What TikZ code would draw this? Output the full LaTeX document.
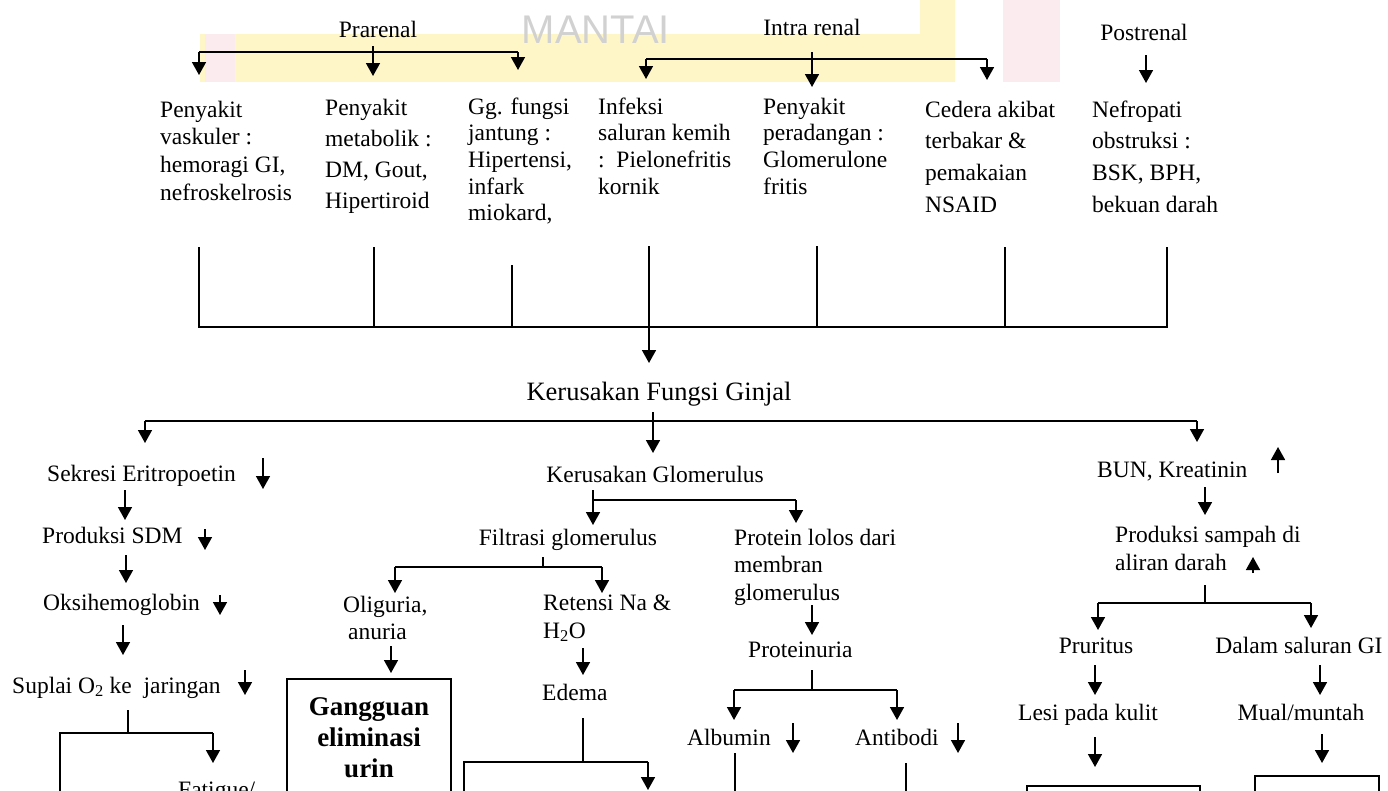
\documentclass[tikz,border=0pt]{standalone}
\usepackage{fontspec}
\setmainfont{Liberation Serif}
\setsansfont{Liberation Sans}
\usetikzlibrary{arrows.meta}
\newcommand\mltext[2]{{\fontsize{23.5}{#1}\selectfont\begin{tabular}[t]{@{}l@{}}#2\end{tabular}}}
\definecolor{wmyellow}{RGB}{255,246,200}
\definecolor{wmpink}{RGB}{251,234,238}
\begin{document}
\begin{tikzpicture}[x=1pt,y=-1pt,
  ln/.style={line width=1.6pt},
  ar/.style={line width=1.6pt,-{Triangle[width=14pt,length=13pt]}},
  tx/.style={inner sep=0pt,font=\fontsize{23.5}{28}\selectfont},
  tw/.style={tx,anchor=base west},
  tc/.style={tx,anchor=base},
  ml/.style={inner sep=0pt,anchor=base west},
  bx/.style={draw,line width=1.6pt,anchor=north west,inner sep=0pt},
]
\useasboundingbox (0,0) rectangle (1388,790);

% faint watermark remnants
\fill[wmyellow] (200,34) rectangle (955,82);
\fill[wmyellow] (920,0) rectangle (955,34);
\fill[wmpink] (205,34) rectangle (235,82);
\fill[wmpink] (1003,0) rectangle (1060,82);
\node[inner sep=0pt,anchor=base,font=\sffamily\fontsize{40}{44}\selectfont,text=black!18] (wm) at (596,43) {MANTAI};

% ---------- top level causes ----------
\node[tc] (prarenal) at (378,37) {Prarenal};
\node[tc] (intra) at (812,35) {Intra renal};
\node[tc] (post) at (1144,40) {Postrenal};

\node[ml] (c1) at (160,117) {\mltext{27.8}{Penyakit\\vaskuler :\\hemoragi GI,\\nefroskelrosis}};
\node[ml] (c2) at (325,115) {\mltext{31.3}{Penyakit\\metabolik :\\DM, Gout,\\Hipertiroid}};
\node[ml] (c3) at (468,114) {\mltext{26.7}{Gg. fungsi\\jantung :\\Hipertensi,\\infark\\miokard,}};
\node[ml] (c4) at (598,114) {\mltext{26.7}{Infeksi\\saluran kemih\\:\ \ Pielonefritis\\kornik}};
\node[ml] (c5) at (763,114) {\mltext{26.7}{Penyakit\\peradangan :\\Glomerulone\\fritis}};
\node[ml] (c6) at (925,117) {\mltext{31.7}{Cedera akibat\\terbakar \&\\pemakaian\\NSAID}};
\node[ml] (c7) at (1092,117) {\mltext{31.7}{Nefropati\\obstruksi :\\BSK, BPH,\\bekuan darah}};

% Prarenal bus
\coordinate (pL) at (199,52); \coordinate (pR) at (518,52); \coordinate (pM) at (373,46);
\coordinate (pLt) at (199,75); \coordinate (pRt) at (518,70); \coordinate (pMt) at (373,76);
\draw[ln] (pL) -- (pR);
\draw[ar] (pL) -- (pLt);
\draw[ar] (pM) -- (pMt);
\draw[ar] (pR) -- (pRt);

% Intra renal bus
\coordinate (iL) at (646,59); \coordinate (iR) at (987,59); \coordinate (iM) at (812,52);
\coordinate (iLt) at (646,79); \coordinate (iRt) at (987,80); \coordinate (iMt) at (812,87);
\draw[ln] (iL) -- (iR);
\draw[ar] (iL) -- (iLt);
\draw[ar] (iM) -- (iMt);
\draw[ar] (iR) -- (iRt);

% Postrenal
\coordinate (po) at (1146,55); \coordinate (pot) at (1146,83);
\draw[ar] (po) -- (pot);

% collecting bus
\coordinate (b1) at (199,247); \coordinate (b1b) at (199,327);
\coordinate (b2) at (374,247); \coordinate (b2b) at (374,327);
\coordinate (b3) at (512,265); \coordinate (b3b) at (512,327);
\coordinate (b4) at (649,246); \coordinate (b4b) at (649,327);
\coordinate (b5) at (817,246); \coordinate (b5b) at (817,327);
\coordinate (b6) at (1005,247); \coordinate (b6b) at (1005,327);
\coordinate (b7) at (1167,247); \coordinate (b7b) at (1167,327);
\draw[ln] (b1) -- (b1b) -- (b7b) -- (b7);
\foreach \i in {2,...,6} \draw[ln] (b\i) -- (b\i b);

% ---------- Kerusakan Fungsi Ginjal ----------
\node[tx,anchor=base,font=\fontsize{26.5}{30}\selectfont] (kfg) at (659,400) {Kerusakan Fungsi Ginjal};
\coordinate (kfgt) at (649,363);
\draw[ar] (b4b) -- (kfgt);

\coordinate (kL) at (145,421); \coordinate (kR) at (1197,421);
\coordinate (kM) at (653,412);
\coordinate (kLt) at (145,443); \coordinate (kRt) at (1197,442); \coordinate (kMt) at (653,453);
\draw[ln] (kL) -- (kR);
\draw[ar] (kL) -- (kLt);
\draw[ar] (kM) -- (kMt);
\draw[ar] (kR) -- (kRt);

% ---------- left branch ----------
\node[tw] (sek) at (47,481) {Sekresi Eritropoetin};
\node[tw] (sdm) at (42,543) {Produksi SDM};
\node[tw] (oksi) at (43,610) {Oksihemoglobin};
\node[tw] (supl) at (12,693) {Suplai O\textsubscript{2} ke\ \ jaringan};
\node[tw] (fat) at (178,797) {Fatigue/};

\coordinate (s1a) at (263,458); \coordinate (s1b) at (263,489);
\coordinate (s2a) at (205,529); \coordinate (s2b) at (205,550);
\coordinate (s3a) at (220,595); \coordinate (s3b) at (220,615);
\coordinate (s4a) at (245,670); \coordinate (s4b) at (245,695);
\draw[ar] (s1a) -- (s1b);
\draw[ar] (s2a) -- (s2b);
\draw[ar] (s3a) -- (s3b);
\draw[ar] (s4a) -- (s4b);

\coordinate (l1a) at (125,490); \coordinate (l1b) at (125,520);
\coordinate (l2a) at (126,555); \coordinate (l2b) at (126,583);
\coordinate (l3a) at (123,625); \coordinate (l3b) at (123,655);
\draw[ar] (l1a) -- (l1b);
\draw[ar] (l2a) -- (l2b);
\draw[ar] (l3a) -- (l3b);

\coordinate (f0) at (128,710); \coordinate (f1) at (128,733);
\coordinate (fL) at (60,733); \coordinate (fLb) at (60,800);
\coordinate (fR) at (213,733); \coordinate (fRt) at (213,763);
\draw[ln] (f0) -- (f1);
\draw[ln] (fLb) -- (fL) -- (fR);
\draw[ar] (fR) -- (fRt);

% ---------- middle branch ----------
\node[tc] (kg) at (655,482) {Kerusakan Glomerulus};
\coordinate (g0) at (593,490); \coordinate (g0t) at (593,525);
\coordinate (g1) at (593,500); \coordinate (g2) at (796,500); \coordinate (g2t) at (796,523);
\draw[ar] (g0) -- (g0t);
\draw[ln] (g1) -- (g2);
\draw[ar] (g2) -- (g2t);

\node[tc] (filt) at (568,545) {Filtrasi glomerulus};
\coordinate (h0) at (543,557); \coordinate (h1) at (543,567);
\coordinate (hL) at (395,567); \coordinate (hR) at (602,567);
\coordinate (hLt) at (395,593); \coordinate (hRt) at (602,593);
\draw[ln] (h0) -- (h1);
\draw[ln] (hL) -- (hR);
\draw[ar] (hL) -- (hLt);
\draw[ar] (hR) -- (hRt);

\node[ml] (olig) at (343,612) {\mltext{27}{Oliguria,\\\hspace*{5pt}anuria}};
\coordinate (o1) at (391,646); \coordinate (o1t) at (391,673);
\draw[ar] (o1) -- (o1t);
\node[draw,line width=1.6pt,anchor=north,text width=160pt,align=center,inner xsep=2pt,inner ysep=15pt,
      font=\fontsize{27}{31}\selectfont\bfseries] (gang) at (369,678) {\strut Gangguan\\\strut eliminasi\\\strut urin};

\node[ml] (ret) at (543,610) {\mltext{28}{Retensi Na \&\\H\textsubscript{2}O}};
\coordinate (r1) at (583,648); \coordinate (r1t) at (583,675);
\draw[ar] (r1) -- (r1t);
\node[tw] (edema) at (542,700) {Edema};
\coordinate (e0) at (583,718); \coordinate (e1) at (583,762);
\coordinate (eL) at (464,762); \coordinate (eLb) at (464,800);
\coordinate (eR) at (648,762); \coordinate (eRt) at (648,790);
\draw[ln] (e0) -- (e1);
\draw[ln] (eLb) -- (eL) -- (eR);
\draw[ar] (eR) -- (eRt);

\node[ml] (prot) at (734,545) {\mltext{27.5}{Protein lolos dari\\membran\\glomerulus}};
\coordinate (q1) at (812,605); \coordinate (q1t) at (812,635);
\draw[ar] (q1) -- (q1t);
\node[tw] (pu) at (748,657) {Proteinuria};
\coordinate (u0) at (812,670); \coordinate (u1) at (812,690);
\coordinate (uL) at (734,690); \coordinate (uR) at (897,690);
\coordinate (uLt) at (734,720); \coordinate (uRt) at (897,720);
\draw[ln] (u0) -- (u1);
\draw[ln] (uL) -- (uR);
\draw[ar] (uL) -- (uLt);
\draw[ar] (uR) -- (uRt);

\node[tw] (alb) at (687,745) {Albumin};
\node[tw] (anti) at (855,745) {Antibodi};
\coordinate (a1) at (793,723); \coordinate (a1t) at (793,753);
\coordinate (a2) at (958,723); \coordinate (a2t) at (958,753);
\draw[ar] (a1) -- (a1t);
\draw[ar] (a2) -- (a2t);
\coordinate (v1) at (735,753); \coordinate (v1b) at (735,800);
\coordinate (v2) at (906,763); \coordinate (v2b) at (906,800);
\draw[ln] (v1) -- (v1b);
\draw[ln] (v2) -- (v2b);

% ---------- right branch ----------
\node[tw] (bun) at (1097,477) {BUN, Kreatinin};
\coordinate (up1) at (1278,473); \coordinate (up1t) at (1278,447);
\draw[ar] (up1) -- (up1t);
\coordinate (w1) at (1205,487); \coordinate (w1t) at (1205,515);
\draw[ar] (w1) -- (w1t);

\node[ml] (samp) at (1115,542) {\mltext{28}{Produksi sampah di\\aliran darah}};
\coordinate (up2) at (1253,573); \coordinate (up2t) at (1253,557);
\draw[ar] (up2) -- (up2t);

\coordinate (x0) at (1205,585); \coordinate (x1) at (1205,603);
\coordinate (xL) at (1098,603); \coordinate (xR) at (1311,603);
\coordinate (xLt) at (1098,630); \coordinate (xRt) at (1311,628);
\draw[ln] (x0) -- (x1);
\draw[ln] (xL) -- (xR);
\draw[ar] (xL) -- (xLt);
\draw[ar] (xR) -- (xRt);

\node[tc] (prur) at (1096,653) {Pruritus};
\node[tc] (dalam) at (1299,653) {Dalam saluran GI};
\coordinate (y1) at (1095,665); \coordinate (y1t) at (1095,695);
\coordinate (y2) at (1320,665); \coordinate (y2t) at (1320,695);
\draw[ar] (y1) -- (y1t);
\draw[ar] (y2) -- (y2t);
\node[tc] (lesi) at (1088,720) {Lesi pada kulit};
\node[tc] (mual) at (1301,720) {Mual/muntah};
\coordinate (z1) at (1095,737); \coordinate (z1t) at (1095,767);
\coordinate (z2) at (1322,734); \coordinate (z2t) at (1322,763);
\draw[ar] (z1) -- (z1t);
\draw[ar] (z2) -- (z2t);

\node[bx,minimum width=173pt,minimum height=40pt] (boxL) at (1026,785) {};
\node[bx,minimum width=124pt,minimum height=50pt] (boxR) at (1254,775) {};
\end{tikzpicture}
\end{document}
